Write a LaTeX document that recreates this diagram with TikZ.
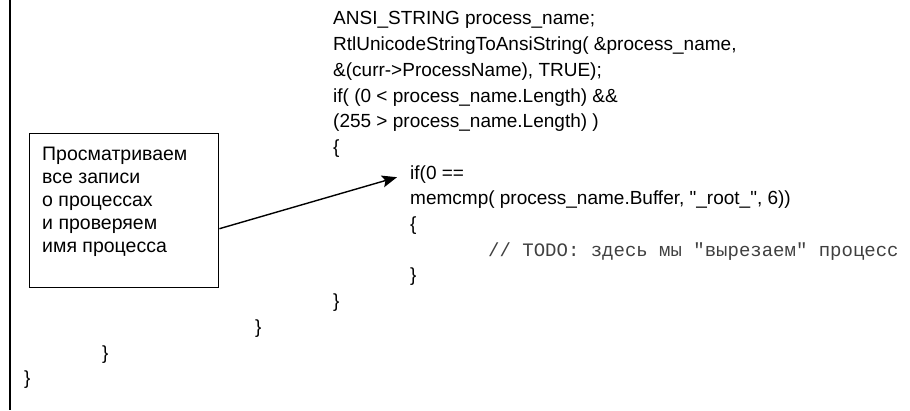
\documentclass[tikz,border=0pt]{standalone}
\usepackage{fontspec}
\setmainfont{Liberation Sans}[Ligatures = TeXOff]
\setmonofont{Liberation Mono}
\usepackage{tikz}
\usetikzlibrary{positioning}
\usetikzlibrary{arrows.meta}
\tikzstyle{pixelGrid} = [x = 1pt, y = -1pt]
\tikzstyle{codeText} = [anchor = west, inner sep = 0, font = \fontsize{19}{23}\selectfont]
\tikzstyle{commentText} = [anchor = west, inner sep = 0, font = \fontsize{19}{23}\selectfont\ttfamily, color = black!75]
\tikzstyle{noteStyle} = [draw, line width = 1.4pt, minimum width = 189pt, minimum height = 154pt, anchor = north west]
\tikzstyle{noteFont} = [anchor = north west, inner sep = 0, align = left, font = \fontsize{19.5}{23}\selectfont]
\tikzstyle{pointerStyle} = [line width = 1.4pt, -{Stealth[length = 15pt, width = 12pt, inset = 3pt]}]
\newcommand{\lineSkip}{25.7}
\newcommand{\codeLine}[4]{\node [codeText] (#1) at (#2, 20 + #3 * \lineSkip) {#4};}

\begin{document}
\begin{tikzpicture}[pixelGrid]
  \useasboundingbox (0,0) rectangle (910,410);
  \draw [line width = 1.4pt] (10,0) -- (10,410);

  % code lines
  \codeLine{ansiLine}{333}{0}{ANSI\_STRING process\_name;}
  \codeLine{rtlLine}{333}{1}{RtlUnicodeStringToAnsiString( \&process\_name,}
  \codeLine{currLine}{333}{2}{\&(curr->ProcessName), TRUE);}
  \codeLine{ifLine}{333}{3}{if( (0 < process\_name.Length) \&\&}
  \codeLine{lengthLine}{333}{4}{(255 > process\_name.Length) )}
  \codeLine{outerOpen}{333}{5}{\{}
  \codeLine{ifZero}{410}{6}{if(0 ==}
  \codeLine{memcmpLine}{410}{7}{memcmp( process\_name.Buffer, "\_root\_", 6))}
  \codeLine{innerOpen}{410}{8}{\{}
  \node [commentText] (todoLine) at (488, 20 + 9 * \lineSkip) {// TODO: здесь мы "вырезаем" процесс};
  \codeLine{innerClose}{410}{10}{\}}
  \codeLine{outerClose}{333}{11}{\}}
  \codeLine{loopClose}{255}{12}{\}}
  \codeLine{blockClose}{102}{13}{\}}
  \codeLine{funcClose}{24}{14}{\}}

  % note with pointer
  \node [noteStyle] (noteBox) at (29,133) {};
  \node [noteFont] (noteText) at (42,147) {Просматриваем\\все записи\\о процессах\\и проверяем\\имя процесса};
  \draw [pointerStyle] ([yshift = -18pt]noteBox.east) -- ([xshift = -13pt, yshift = -3pt]ifZero.west);
\end{tikzpicture}
\end{document}
